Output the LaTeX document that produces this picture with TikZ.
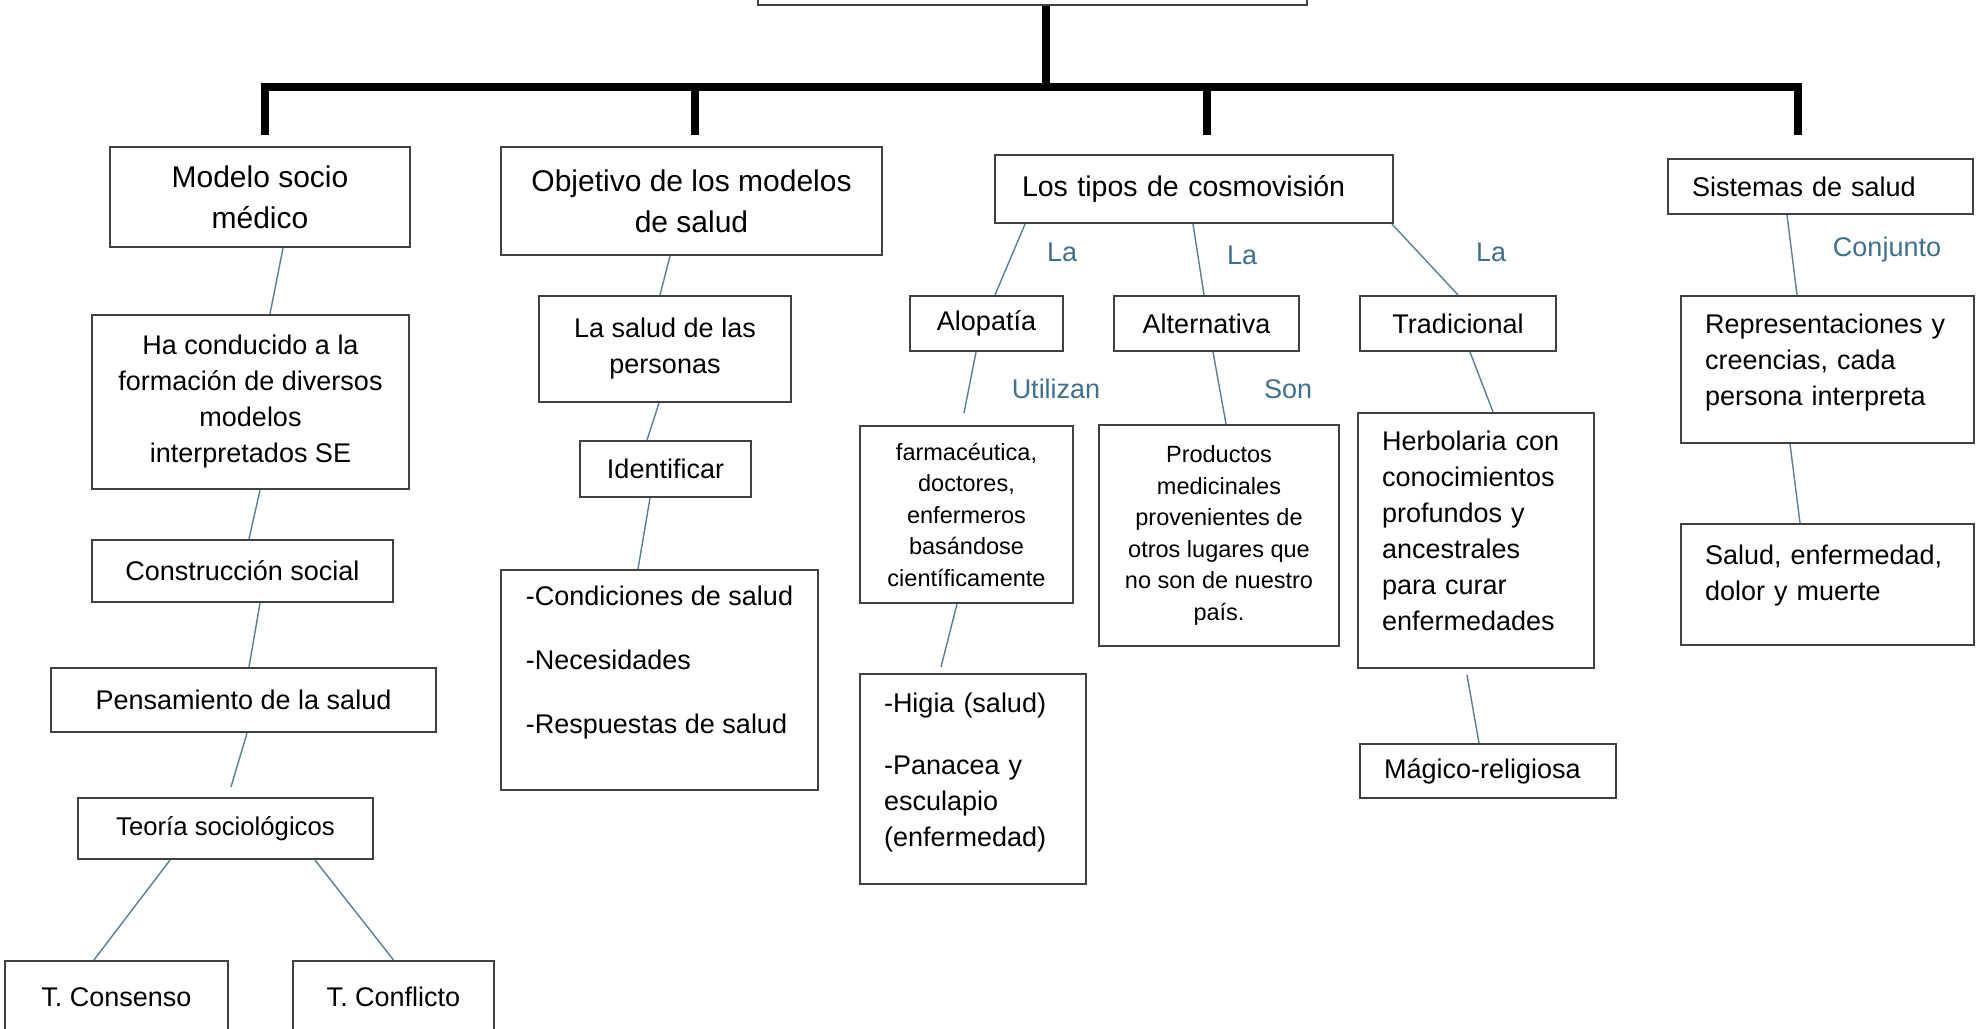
\documentclass[tikz,border=0pt]{standalone}
\usepackage{fontspec}
\setmainfont{Liberation Sans}
\definecolor{azulenlace}{RGB}{86,128,150}
\definecolor{azulverbo}{RGB}{62,112,145}
\begin{document}
\begin{tikzpicture}[x=0.5pt,y=-0.5pt]

% Styles for boxes and lines
\tikzstyle{caja}=[draw=black!75,line width=1.1pt,rectangle,inner sep=0pt,align=center,font=\fontsize{13.5}{18}\selectfont]
\tikzstyle{titulo}=[caja,font=\fontsize{15}{20.5}\selectfont]
\tikzstyle{chica}=[caja,font=\fontsize{11.75}{15.75}\selectfont]
\tikzstyle{izq}=[align=left,inner xsep=12pt]
\tikzstyle{enlace}=[draw=azulenlace,line width=0.7pt]
\tikzstyle{grueso}=[draw=black,line width=4pt]
\tikzstyle{verbo}=[text=azulverbo,font=\fontsize{13.5}{18}\selectfont,inner sep=0pt]
% Page
\fill[white] (0,0) rectangle (1984,1028);
\useasboundingbox (0,0) rectangle (1984,1028);
% Top of the map
\node[caja,minimum width=274.5pt,minimum height=50pt] (raiz) at (1032.5,-45) {};
\coordinate (barra) at (1046,87);
\coordinate (d1) at (265,135);
\coordinate (d2) at (695,135);
\coordinate (d3) at (1207,135);
\coordinate (d4) at (1798,135);
\draw[grueso] ([xshift=6.75pt]raiz.south) -- (barra);
\draw[grueso] (d1) -- (d1 |- barra) -- (d4 |- barra) -- (d4);
\draw[grueso] (d2) -- (d2 |- barra);
\draw[grueso] (d3) -- (d3 |- barra);
% Modelo socio medico
\node[titulo,minimum width=150pt,minimum height=50pt] (modelo) at (260,197) {Modelo socio\\médico};
\node[caja,minimum width=158.5pt,minimum height=87pt] (ha) at (250.5,402) {Ha conducido a la\\formación de diversos\\modelos\\interpretados SE};
\node[caja,minimum width=150.5pt,minimum height=31pt] (construccion) at (242.5,571) {Construcción social};
\node[caja,minimum width=192.5pt,minimum height=32pt] (pensamiento) at (243.5,700) {Pensamiento de la salud};
\node[caja,font=\fontsize{12.85}{17}\selectfont,minimum width=147.5pt,minimum height=30.5pt] (teoria) at (225.5,828.5) {Teoría sociológicos};
\node[caja,minimum width=111.5pt,minimum height=36pt] (consenso) at (116.5,997) {T. Consenso};
\node[caja,minimum width=100.5pt,minimum height=36pt] (conflicto) at (393.5,997) {T. Conflicto};
% Objetivo
\node[titulo,minimum width=190.5pt,minimum height=54pt] (objetivo) at (691.5,201) {Objetivo de los modelos\\de salud};
\node[caja,minimum width=126pt,minimum height=53pt] (personas) at (665,349) {La salud de las\\personas};
\node[caja,minimum width=85.5pt,minimum height=28pt] (identificar) at (665.5,469) {Identificar};
\node[caja,align=left,minimum width=158.5pt,minimum height=110pt] (condiciones) at (659.5,680) {-Condiciones de salud\\[14pt]-Necesidades\\[14pt]-Respuestas de salud\\[2pt]\mbox{}};
% Cosmovision
\node[caja,font=\fontsize{14.25}{19}\selectfont,izq,inner xsep=13.5pt,text width=172pt,minimum height=34pt] (tipos) at (1194,189) {Los tipos de cosmovisión};
\node[caja,minimum width=76.5pt,minimum height=27.5pt] (alopatia) at (986.5,323.5) {Alopatía};
\node[caja,minimum width=92.5pt,minimum height=27.5pt] (alternativa) at (1206.5,323.5) {Alternativa};
\node[caja,minimum width=98pt,minimum height=27.5pt] (tradicional) at (1458,323.5) {Tradicional};
\node[chica,minimum width=106.5pt,minimum height=88.5pt] (farmacia) at (966.5,514.5) {farmacéutica,\\doctores,\\enfermeros\\basándose\\científicamente};
\node[chica,minimum width=120pt,minimum height=110.5pt] (productos) at (1219,535.5) {Productos\\medicinales\\provenientes de\\otros lugares que\\no son de nuestro\\país.};
\node[caja,izq,text width=94pt,minimum height=127.5pt] (herbolaria) at (1476,540.5) {Herbolaria con\\conocimientos\\profundos y\\ancestrales\\para curar\\enfermedades\\[-8.5pt]\mbox{}};
\node[caja,izq,text width=89pt,minimum height=105pt] (higia) at (973,779) {-Higia (salud)\\[13pt]-Panacea y\\esculapio\\(enfermedad)\\[-8.5pt]\mbox{}};
\node[caja,izq,text width=104pt,minimum height=27pt] (magico) at (1488,771) {Mágico-religiosa};
% Sistemas de salud
\node[caja,izq,text width=128.5pt,minimum height=27.5pt] (sistemas) at (1820.5,186.5) {Sistemas de salud};
\node[caja,izq,text width=122.5pt,minimum height=73.5pt] (representaciones) at (1827.5,369.5) {Representaciones y\\creencias, cada\\persona interpreta\\[-8.5pt]\mbox{}};
\node[caja,izq,text width=122.5pt,minimum height=60.5pt] (salud) at (1827.5,584.5) {Salud, enfermedad,\\dolor y muerte\\[-6pt]\mbox{}};
% Words beside the lines
\node[verbo] (la1) at (1062,252) {La};
\node[verbo] (la2) at (1242,255) {La};
\node[verbo] (la3) at (1491,252) {La};
\node[verbo] (utilizan) at (1056,389) {Utilizan};
\node[verbo] (son) at (1288,389) {Son};
\node[verbo] (conjunto) at (1887,250) {Conjunto};
% Lines
\draw[enlace] ([xshift=11.5pt]modelo.south) -- ([xshift=9.75pt]ha.north);
\draw[enlace] ([xshift=4.75pt]ha.south) -- ([xshift=3.25pt]construccion.north);
\draw[enlace] ([xshift=8.75pt]construccion.south) -- ([xshift=2.75pt]pensamiento.north);
\draw[enlace] ([xshift=1.75pt]pensamiento.south) -- ([xshift=2.75pt,yshift=5pt]teoria.north);
\draw[enlace] ([xshift=-27.75pt]teoria.south) -- ([xshift=-11.25pt]consenso.north);
\draw[enlace] ([xshift=44.75pt]teoria.south) -- (conflicto.north);
\draw[enlace] ([xshift=-10.75pt]objetivo.south) -- ([xshift=-2.5pt]personas.north);
\draw[enlace] ([xshift=-3pt]personas.south) -- ([xshift=-9.25pt]identificar.north);
\draw[enlace] ([xshift=-7.75pt]identificar.south) -- ([xshift=-10.75pt]condiciones.north);
\draw[enlace] ([xshift=-84.5pt]tipos.south) -- ([xshift=4.25pt]alopatia.north);
\draw[enlace] ([xshift=-0.5pt]tipos.south) -- ([xshift=-1.25pt]alternativa.north);
\draw[enlace] ([xshift=99pt]tipos.south) -- (tradicional.north);
\draw[enlace] ([xshift=-5.25pt]alopatia.south) -- ([xshift=-1.25pt,yshift=6pt]farmacia.north);
\draw[enlace] ([xshift=3.25pt]alternativa.south) -- ([xshift=3.5pt]productos.north);
\draw[enlace] ([xshift=6pt]tradicional.south) -- ([xshift=8.5pt]herbolaria.north);
\draw[enlace] ([xshift=-4.75pt]farmacia.south) -- ([xshift=-16pt,yshift=3pt]higia.north);
\draw[enlace] ([xshift=-4.5pt,yshift=-3pt]herbolaria.south) -- ([xshift=-4.5pt]magico.north);
\draw[enlace] ([xshift=-16.75pt]sistemas.south) -- ([xshift=-15.25pt]representaciones.north);
\draw[enlace] ([xshift=-18.75pt]representaciones.south) -- ([xshift=-13.75pt]salud.north);
\end{tikzpicture}
\end{document}
